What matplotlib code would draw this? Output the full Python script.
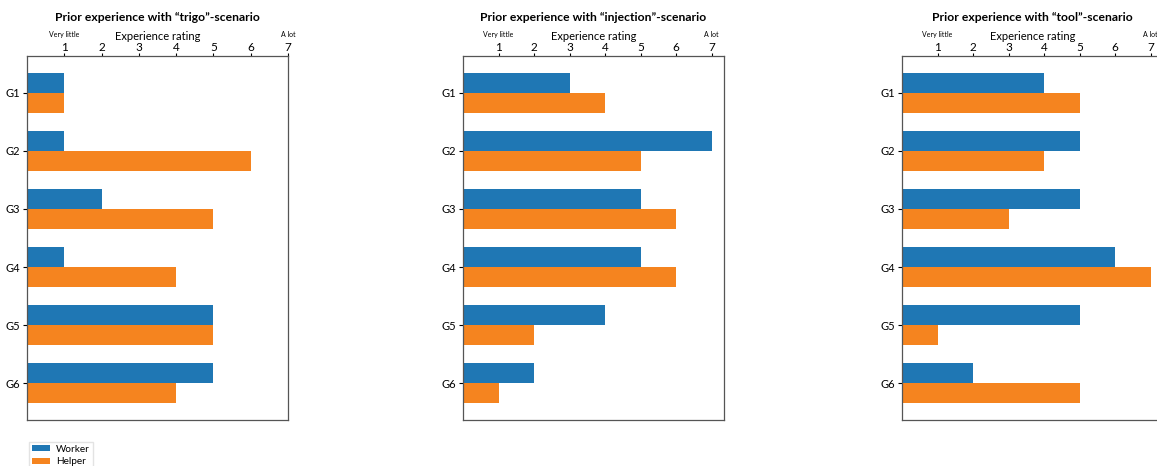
import matplotlib.pyplot as plt
import numpy as np

plt.rcParams['font.family'] = ['Lato', 'DejaVu Sans']

groups = ["G1", "G2", "G3", "G4", "G5", "G6"]
scenarios = ["trigo", "injection", "tool"]
worker = {
    "trigo": [1, 1, 2, 1, 5, 5],
    "injection": [3, 7, 5, 5, 4, 2],
    "tool": [4, 5, 5, 6, 5, 2],
}
helper = {
    "trigo": [1, 6, 5, 4, 5, 4],
    "injection": [4, 5, 6, 6, 2, 1],
    "tool": [5, 4, 3, 7, 1, 5],
}
ticks = [1, 2, 3, 4, 5, 6, 7]

blue = "#1f77b4"
orange = "#f5841f"

fig = plt.figure(figsize=(11.57, 4.66), dpi=100)
lefts = [27, 463, 902]
W, H = 1157, 466
y = np.arange(len(groups))
h = 0.35

for left, sc in zip(lefts, scenarios):
    ax = fig.add_axes([left / W, 46 / H, 261 / W, 364 / H])
    ax.barh(y - h / 2, worker[sc], height=h, color=blue, label="Worker")
    ax.barh(y + h / 2, helper[sc], height=h, color=orange, label="Helper")
    ax.set_yticks(y)
    ax.set_yticklabels(groups, fontsize=8)
    ax.invert_yaxis()
    # ticks 1..7 stretch the limits to 7 where the bars stop short
    ax.set_xticks(ticks)
    ax.xaxis.tick_top()
    ax.xaxis.set_label_position("top")
    ax.tick_params(axis="x", labelsize=8.5, pad=0, length=2)
    ax.tick_params(axis="y", length=3, pad=2)
    ax.set_xlabel("Experience rating", fontsize=8, labelpad=1.5)
    ax.set_title("Prior experience with \u201c" + sc + "\u201d-scenario",
                 fontsize=8.7, fontweight="bold", pad=7)
    for s in ax.spines.values():
        s.set_color("#555555")
        s.set_linewidth(0.9)
    tr = ax.get_xaxis_transform()
    ax.text(1, 1.05, "Very little", transform=tr, fontsize=5,
            ha="center", va="bottom", clip_on=False)
    ax.text(7, 1.05, "A lot", transform=tr, fontsize=5,
            ha="center", va="bottom", clip_on=False)
    if left == 27:
        handles, labels = ax.get_legend_handles_labels()

fig.legend(handles, labels, loc="upper left",
           bbox_to_anchor=(24 / W, 29 / H), fontsize=7.2,
           handlelength=1.8, handleheight=0.55, handletextpad=0.6,
           borderpad=0.3, labelspacing=0.35, frameon=True, fancybox=False,
           edgecolor="#dddddd")

fig.savefig("out.png", dpi=100)
